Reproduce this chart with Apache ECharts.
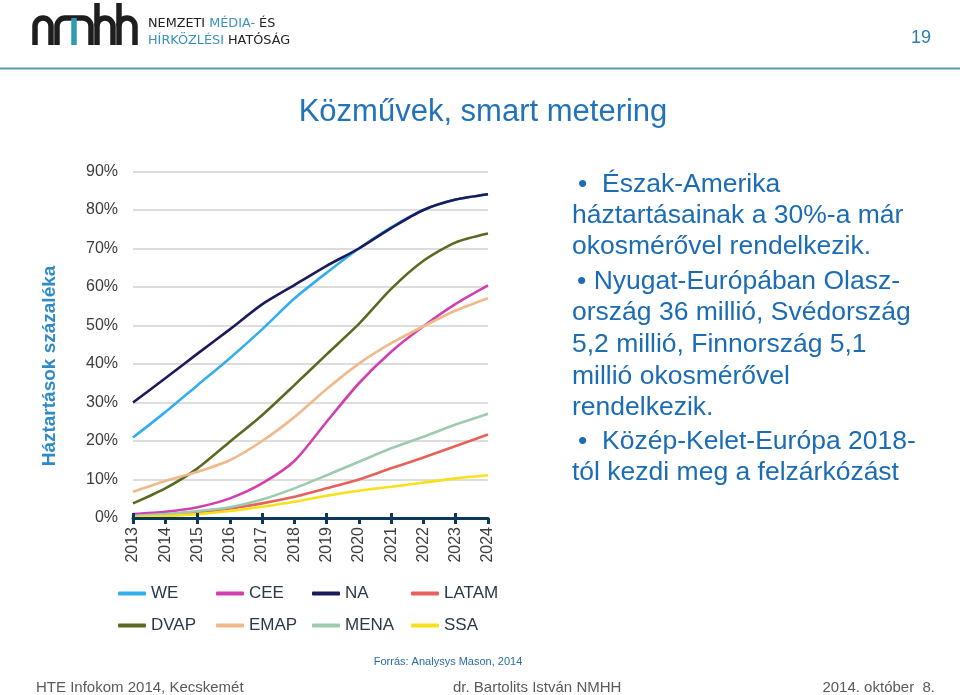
<!DOCTYPE html>
<html><head><meta charset="utf-8">
<script src="https://cdn.jsdelivr.net/npm/echarts@6/dist/echarts.min.js"></script>
<style>html,body{margin:0;padding:0;background:#fff}#c{width:960px;height:695px}</style>
</head><body><div id="c"></div>
<script>
const years = ['2013','2014','2015','2016','2017','2018','2019','2020','2021','2022','2023','2024'];
const WE    = [20.9, 27.5, 34.5, 41.5, 49.0, 57.0, 63.7, 70.0, 75.5, 80.0, 82.7, 84.1];
const CEE   = [1.0, 1.6, 2.8, 5.1, 9.0, 14.8, 25.0, 35.0, 43.2, 49.8, 55.6, 60.4];
const NA    = [30.0, 36.3, 42.7, 49.0, 55.5, 60.5, 65.5, 70.0, 75.3, 80.0, 82.7, 84.1];
const LATAM = [0.3, 0.8, 1.5, 2.5, 3.8, 5.5, 7.7, 10.0, 12.9, 15.7, 18.7, 21.7];
const DVAP  = [3.8, 7.7, 12.9, 19.8, 26.7, 34.5, 42.5, 50.4, 59.5, 66.8, 71.6, 73.9];
const EMAP  = [6.8, 9.6, 12.0, 15.0, 20.0, 26.2, 33.5, 40.1, 45.4, 49.8, 53.9, 57.1];
const MENA  = [0.5, 1.0, 1.8, 2.8, 4.8, 7.7, 11.1, 14.6, 18.1, 21.1, 24.3, 27.1];
const SSA   = [0.2, 0.5, 1.0, 1.8, 2.9, 4.2, 5.8, 7.1, 8.1, 9.2, 10.3, 11.1];
const yTicks = [0, 90, 10]; // min, max, interval (percent)

const seriesNames = ['WE','CEE','NA','LATAM','DVAP','EMAP','MENA','SSA'];
const seriesData = [WE, CEE, NA, LATAM, DVAP, EMAP, MENA, SSA];
const colors = ['#35aef0','#d23fae','#1b1a5c','#e8605a','#5a6a24','#f0b98a','#9ecbb0','#f8e11a'];

const chart = echarts.init(document.getElementById('c'), null, {renderer:'canvas'});
const axisCol = '#0e3857';
const baseFont = '"Liberation Sans", Arial, sans-serif';

const legends = seriesNames.map((n, i) => ({
  data: [n], left: [118, 216, 312, 411][i % 4], top: i < 4 ? 585 : 617,
  icon: 'roundRect', itemWidth: 28, itemHeight: 4, itemGap: 0, padding: 0,
  textStyle: { fontSize: 17, color: '#2b3848', fontFamily: baseFont }
}));

// logo built from simple strokes
const LS = { stroke: '#1e1e1e', lineWidth: 5.5, fill: null };
function ln(x1, y1, x2, y2, st) { return { type: 'line', shape: { x1, y1, x2, y2 }, style: st || LS }; }
function arc(cx, cy, r, a0, a1) { return { type: 'arc', shape: { cx, cy, r, startAngle: a0, endAngle: a1, clockwise: true }, style: LS }; }
const P = Math.PI;
const logo = [
  ln(35, 26, 35, 45), arc(43, 26, 8, P, 2 * P), ln(51, 26, 51, 45),
  ln(57, 26, 57, 45), arc(65, 26, 8, P, 1.5 * P), ln(65, 18, 83, 18), arc(83, 26, 8, 1.5 * P, 2 * P), ln(91, 26, 91, 45),
  ln(74, 18, 74, 45, { stroke: '#2f9bb3', lineWidth: 5.5 }),
  ln(97, 3, 97, 45), arc(105, 26, 8, P, 2 * P), ln(113, 26, 113, 45),
  ln(119, 3, 119, 45), arc(127, 26, 8, P, 2 * P), ln(135, 26, 135, 45)
];
const logoFont = '12.8px "DejaVu Sans", sans-serif';

chart.setOption({
  animation: false,
  backgroundColor: '#ffffff',
  color: colors,
  grid: { left: 133, right: 472, top: 171.5, bottom: 177 },
  legend: legends,
  xAxis: [{
    type: 'category', data: years, boundaryGap: false, z: 5,
    axisLine: { lineStyle: { color: axisCol, width: 3 } },
    axisTick: { length: 6, lineStyle: { color: axisCol, width: 3 } },
    axisLabel: { rotate: 90, margin: 9, fontSize: 16, color: '#3c3c3c', fontFamily: baseFont }
  }, {
    type: 'category', data: years, boundaryGap: false, position: 'bottom', z: 5,
    axisLine: { show: false },
    axisTick: { inside: true, length: 5, lineStyle: { color: axisCol, width: 3 } },
    axisLabel: { show: false }
  }],
  yAxis: {
    type: 'value', min: yTicks[0], max: yTicks[1], interval: yTicks[2],
    axisLine: { show: false }, axisTick: { show: false },
    axisLabel: { formatter: '{value}%', fontSize: 16, color: '#3c3c3c', margin: 15, fontFamily: baseFont },
    splitLine: { lineStyle: { color: '#d2d2d2', width: 1.5 } }
  },
  series: seriesNames.map((n, i) => ({
    name: n, type: 'line', data: seriesData[i], smooth: 0.25, symbol: 'none', xAxisIndex: 0,
    lineStyle: { width: 2.6, color: colors[i] }, itemStyle: { color: colors[i] }
  })),
  graphic: [
    ...logo,
    { type: 'text', x: 148, y: 24, style: { text: '{a|NEMZETI }{b|MÉDIA-}{a| ÉS}', font: logoFont, verticalAlign: 'middle',
      rich: { a: { fill: '#222', font: logoFont }, b: { fill: '#3a90c2', font: logoFont } } } },
    { type: 'text', x: 148, y: 41, style: { text: '{b|HÍRKÖZLÉSI }{a|HATÓSÁG}', font: logoFont, verticalAlign: 'middle',
      rich: { a: { fill: '#222', font: logoFont }, b: { fill: '#3a90c2', font: logoFont } } } },
    { type: 'text', x: 931, y: 38, style: { text: '19', font: '18px ' + baseFont, fill: '#2c7bb8', align: 'right', verticalAlign: 'middle' } },
    { type: 'rect', shape: { x: 0, y: 67.5, width: 960, height: 2 }, style: { fill: '#5c9ba2' } },
    { type: 'text', x: 483, y: 112, style: { text: 'Közművek, smart metering', font: '31px ' + baseFont, fill: '#2373b9', align: 'center', verticalAlign: 'middle' } },
    { type: 'text', x: 50, y: 366, rotation: Math.PI / 2, style: { text: 'Háztartások százaléka', font: 'bold 19px ' + baseFont, fill: '#2e8ac8', align: 'center', verticalAlign: 'middle' } },
    ...[
      ['•  Észak-Amerika', 578, 185],
      ['háztartásainak a 30%-a már', 572, 216],
      ['okosmérővel rendelkezik.', 572, 247],
      ['• Nyugat-Európában Olasz-', 577, 282],
      ['ország 36 millió, Svédország', 572, 313],
      ['5,2 millió, Finnország 5,1', 572, 345],
      ['millió okosmérővel', 572, 377],
      ['rendelkezik.', 572, 408],
      ['•  Közép-Kelet-Európa 2018-', 578, 442],
      ['tól kezdi meg a felzárkózást', 572, 473]
    ].map(t => ({ type: 'text', x: t[1], y: t[2], style: { text: t[0], font: '26.5px ' + baseFont, fill: '#1b6cb4', verticalAlign: 'middle' } })),
    { type: 'text', x: 448, y: 662, style: { text: 'Forrás: Analysys Mason, 2014', font: '11px ' + baseFont, fill: '#2a6da6', align: 'center', verticalAlign: 'middle' } },
    { type: 'text', x: 36, y: 688, style: { text: 'HTE Infokom 2014, Kecskemét', font: '15px ' + baseFont, fill: '#5a5a5a', verticalAlign: 'middle' } },
    { type: 'text', x: 453, y: 688, style: { text: 'dr. Bartolits István NMHH', font: '15px ' + baseFont, fill: '#5a5a5a', verticalAlign: 'middle' } },
    { type: 'text', x: 935, y: 688, style: { text: '2014. október  8.', font: '15px ' + baseFont, fill: '#5a5a5a', align: 'right', verticalAlign: 'middle' } }
  ]
});
</script></body></html>
